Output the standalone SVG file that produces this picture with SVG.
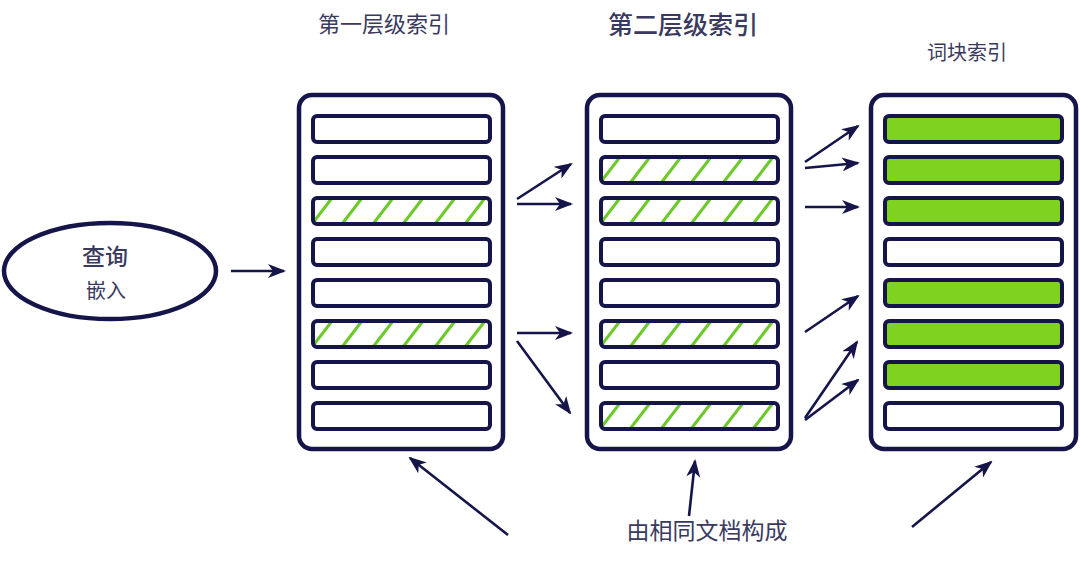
<svg xmlns="http://www.w3.org/2000/svg" xmlns:xlink="http://www.w3.org/1999/xlink" width="1080" height="561" viewBox="0 0 1080 561">
<style>
.panel{fill:#fff;stroke:#15154a;stroke-width:4.5}
.row{fill:none;stroke:#15154a;stroke-width:4}
.rowbg{fill:#fff}
.green{fill:#7ed321;stroke:#15154a;stroke-width:4}
.conn line{stroke:#15154a;stroke-width:2.6;marker-end:url(#ah)}
.t{font-family:"Noto Sans CJK SC","Noto Sans",sans-serif;fill:#3a3a5e}
</style>
<defs>
<marker id="ah" viewBox="0 0 18 14" refX="16" refY="7" markerWidth="18" markerHeight="14" markerUnits="userSpaceOnUse" orient="auto">
<path d="M0,0 L18,7 L0,14 L5,7 Z" fill="#15154a"/>
</marker>
<clipPath id="hc"><rect x="0" y="0" width="177" height="26" rx="4"/></clipPath>
<g id="hatch">
<rect class="rowbg" x="0" y="0" width="177" height="26" rx="4"/>
<g clip-path="url(#hc)" stroke="#6cc92a" stroke-width="3">
<line x1="-1" y1="26" x2="19" y2="0"/>
<line x1="29" y1="26" x2="49" y2="0"/>
<line x1="60" y1="26" x2="80" y2="0"/>
<line x1="90" y1="26" x2="110" y2="0"/>
<line x1="122" y1="26" x2="142" y2="0"/>
<line x1="152" y1="26" x2="172" y2="0"/>
</g>
<rect class="row" x="0" y="0" width="177" height="26" rx="4"/>
</g>
<rect id="plain" class="row" x="0" y="0" width="177" height="26" rx="4"/>
<rect id="filled" class="green" x="0" y="0" width="177" height="26" rx="4"/>
</defs>

<g id="query">
<ellipse cx="110" cy="271" rx="106" ry="48" fill="#fff" stroke="#15154a" stroke-width="4.5"/>
<text class="t" x="105" y="265" font-size="23" font-weight="500" text-anchor="middle">查询</text>
<text class="t" x="106" y="298" font-size="20" text-anchor="middle">嵌入</text>
</g>

<g id="level1">
<text class="t" x="384" y="32" font-size="22" text-anchor="middle">第一层级索引</text>
<rect class="panel" x="299" y="95" width="204" height="354" rx="13"/>
<use xlink:href="#plain" x="313" y="116"/>
<use xlink:href="#plain" x="313" y="157"/>
<use xlink:href="#hatch" x="313" y="198"/>
<use xlink:href="#plain" x="313" y="239"/>
<use xlink:href="#plain" x="313" y="280"/>
<use xlink:href="#hatch" x="313" y="321"/>
<use xlink:href="#plain" x="313" y="362"/>
<use xlink:href="#plain" x="313" y="403"/>
</g>

<g id="level2">
<text class="t" x="683" y="34" font-size="25" font-weight="500" text-anchor="middle">第二层级索引</text>
<rect class="panel" x="587" y="95" width="204" height="354" rx="13"/>
<use xlink:href="#plain" x="601" y="116"/>
<use xlink:href="#hatch" x="601" y="157"/>
<use xlink:href="#hatch" x="601" y="198"/>
<use xlink:href="#plain" x="601" y="239"/>
<use xlink:href="#plain" x="601" y="280"/>
<use xlink:href="#hatch" x="601" y="321"/>
<use xlink:href="#plain" x="601" y="362"/>
<use xlink:href="#hatch" x="601" y="403"/>
</g>

<g id="chunks">
<text class="t" x="967" y="60" font-size="20" text-anchor="middle">词块索引</text>
<rect class="panel" x="871" y="95" width="205" height="354" rx="13"/>
<use xlink:href="#filled" x="885" y="116"/>
<use xlink:href="#filled" x="885" y="157"/>
<use xlink:href="#filled" x="885" y="198"/>
<use xlink:href="#plain" x="885" y="239"/>
<use xlink:href="#filled" x="885" y="280"/>
<use xlink:href="#filled" x="885" y="321"/>
<use xlink:href="#filled" x="885" y="362"/>
<use xlink:href="#plain" x="885" y="403"/>
</g>

<g id="note">
<text class="t" x="707" y="539" font-size="23" text-anchor="middle">由相同文档构成</text>
</g>

<g id="connectors" class="conn">
<line x1="231" y1="271" x2="284" y2="271"/>
<line x1="517" y1="199" x2="571" y2="164"/>
<line x1="517" y1="204" x2="571" y2="204"/>
<line x1="517" y1="333" x2="571" y2="333"/>
<line x1="517" y1="341" x2="570" y2="413"/>
<line x1="805" y1="162" x2="858" y2="126"/>
<line x1="805" y1="168" x2="858" y2="163"/>
<line x1="805" y1="207" x2="858" y2="207"/>
<line x1="805" y1="332" x2="858" y2="296"/>
<line x1="805" y1="418" x2="857" y2="342"/>
<line x1="805" y1="420" x2="858" y2="380"/>
<line x1="508" y1="535" x2="410" y2="458"/>
<line x1="689" y1="516" x2="695" y2="461"/>
<line x1="912" y1="527" x2="991" y2="462"/>
</g>
</svg>
